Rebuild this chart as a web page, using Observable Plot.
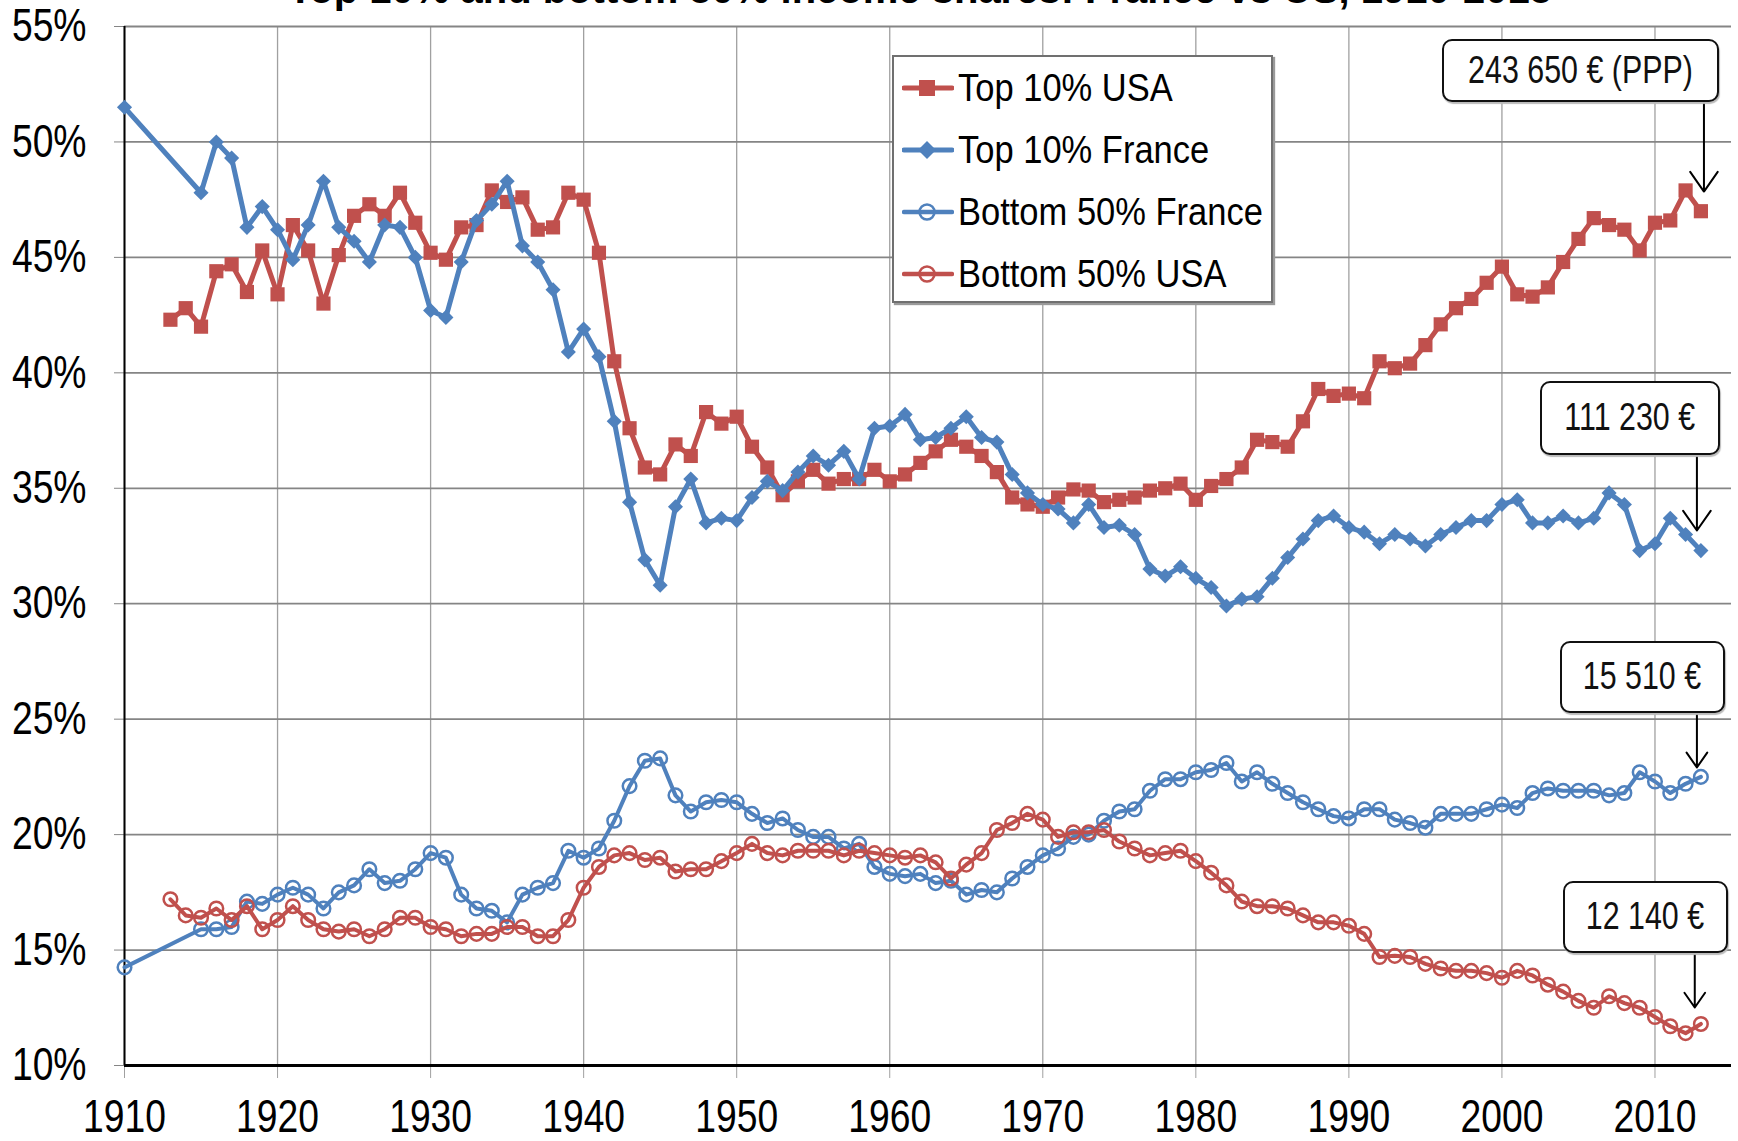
<!DOCTYPE html>
<html>
<head>
<meta charset="utf-8">
<script src="https://cdn.jsdelivr.net/npm/d3@7"></script>
<script src="https://cdn.jsdelivr.net/npm/@observablehq/plot@0.6"></script>
<style>
  html, body { margin: 0; padding: 0; background: #fff; }
  #wrap { position: relative; width: 1738px; height: 1141px; overflow: hidden; background: #fff; }
  #title { position: absolute; left: 0; width: 1840px; top: -31px; text-align: center;
           font: bold 40px/40px "Liberation Sans", Arial, sans-serif; color: #000; white-space: nowrap; }
  #legend { position: absolute; left: 892px; top: 55px; width: 381px; height: 248px; background: #fff;
            border: 2px solid #707070; box-shadow: 2px 2px 1px #9a9a9a; box-sizing: border-box; }
  .lg { position: absolute; left: 8px; height: 40px; display: flex; align-items: center; }
  .lg svg { flex: none; }
  .lg span { display: inline-block; margin-left: 4px; font: 34.5px "Liberation Sans", Arial, sans-serif;
             color: #000; transform: scaleY(1.12); white-space: nowrap; }
  .box { position: absolute; background: #fff; border: 2px solid #111; border-radius: 10px;
         box-sizing: border-box; display: flex; align-items: center; justify-content: center;
         box-shadow: 1px 2px 1px #bbb; white-space: nowrap; }
  .box span { display: inline-block; font: 38px "Liberation Sans", Arial, sans-serif; color: #111;
              transform: scaleX(0.8); }
</style>
</head>
<body>
<div id="wrap">
  <div id="title">Top 10% and bottom 50% income shares: France vs US, 1910-2015</div>
</div>
<script>
// ---------- data ----------
const xTicks = [1910, 1920, 1930, 1940, 1950, 1960, 1970, 1980, 1990, 2000, 2010];
const yTicks = [10, 15, 20, 25, 30, 35, 40, 45, 50, 55];

const seriesNames = ["Top 10% USA", "Top 10% France", "Bottom 50% France", "Bottom 50% USA"];

const yearsUSA = d3.range(1913, 2014);
const yearsFrance = [1910].concat(d3.range(1915, 2014));

const top10USA = [
  42.3, 42.8, 42.0, 44.4, 44.7, 43.5, 45.3, 43.4, 46.4, 45.3, 43.0, 45.1, 46.8, 47.3, 46.8, 47.8, 46.5,
  45.2, 44.9, 46.3, 46.4, 47.9, 47.4, 47.6, 46.2, 46.3, 47.8, 47.5, 45.2, 40.5, 37.6, 35.9, 35.6, 36.9,
  36.4, 38.3, 37.8, 38.1, 36.8, 35.9, 34.7, 35.3, 35.8, 35.2, 35.4, 35.4, 35.8, 35.3, 35.6, 36.1, 36.6,
  37.1, 36.8, 36.4, 35.7, 34.6, 34.3, 34.2, 34.6, 34.95, 34.9, 34.4, 34.5, 34.6, 34.9, 35.0, 35.2, 34.5,
  35.1, 35.4, 35.9, 37.1, 37.0, 36.8, 37.9, 39.3, 39.0, 39.1, 38.9, 40.5, 40.2, 40.4, 41.2, 42.1, 42.8,
  43.2, 43.9, 44.6, 43.4, 43.3, 43.7, 44.8, 45.8, 46.7, 46.4, 46.2, 45.3, 46.5, 46.6, 47.9, 47.0
];
const top10France = [
  51.5, 47.8, 50.0, 49.3, 46.3, 47.2, 46.2, 44.9, 46.4, 48.3, 46.3, 45.7, 44.8, 46.4, 46.3, 45.0, 42.7,
  42.4, 44.8, 46.6, 47.3, 48.3, 45.5, 44.8, 43.6, 40.9, 41.9, 40.7, 37.9, 34.4, 31.9, 30.8, 34.2, 35.4,
  33.5, 33.7, 33.6, 34.6, 35.3, 34.9, 35.7, 36.4, 36.0, 36.6, 35.4, 37.6, 37.7, 38.2, 37.1, 37.2, 37.6,
  38.1, 37.2, 37.0, 35.6, 34.8, 34.3, 34.1, 33.5, 34.3, 33.3, 33.4, 33.0, 31.5, 31.2, 31.6, 31.1, 30.7,
  29.9, 30.2, 30.3, 31.1, 32.0, 32.8, 33.6, 33.8, 33.3, 33.1, 32.6, 33.0, 32.8, 32.5, 33.0, 33.3, 33.6,
  33.6, 34.3, 34.5, 33.5, 33.5, 33.8, 33.5, 33.7, 34.8, 34.3, 32.3, 32.6, 33.7, 33.0, 32.3
];
const bottom50France = [
  14.25, 15.9, 15.9, 16.0, 17.1, 17.0, 17.4, 17.7, 17.4, 16.8, 17.5, 17.8, 18.5, 17.9, 18.0, 18.5, 19.2,
  19.0, 17.4, 16.8, 16.7, 16.2, 17.4, 17.7, 17.9, 19.3, 19.0, 19.4, 20.6, 22.1, 23.2, 23.3, 21.7, 21.0,
  21.4, 21.5, 21.4, 20.9, 20.5, 20.7, 20.2, 19.9, 19.9, 19.4, 19.6, 18.6, 18.3, 18.2, 18.3, 17.9, 18.0,
  17.4, 17.6, 17.5, 18.1, 18.6, 19.1, 19.4, 19.9, 20.0, 20.6, 21.0, 21.1, 21.9, 22.4, 22.4, 22.7, 22.8,
  23.1, 22.3, 22.7, 22.2, 21.8, 21.4, 21.1, 20.8, 20.7, 21.1, 21.1, 20.65, 20.5, 20.3, 20.9, 20.9, 20.9,
  21.1, 21.3, 21.15, 21.8, 22.0, 21.9, 21.9, 21.9, 21.7, 21.8, 22.7, 22.3, 21.8, 22.2, 22.5
];
const bottom50USA = [
  17.2, 16.5, 16.4, 16.8, 16.3, 16.9, 15.9, 16.3, 16.9, 16.3, 15.9, 15.8, 15.9, 15.6, 15.9, 16.4, 16.4,
  16.0, 15.9, 15.6, 15.7, 15.7, 16.0, 16.0, 15.6, 15.6, 16.3, 17.7, 18.6, 19.1, 19.2, 18.9, 19.0, 18.4,
  18.5, 18.5, 18.85, 19.2, 19.6, 19.2, 19.1, 19.3, 19.3, 19.3, 19.1, 19.3, 19.2, 19.1, 19.0, 19.1, 18.8,
  18.1, 18.7, 19.2, 20.2, 20.5, 20.9, 20.65, 19.9, 20.1, 20.1, 20.2, 19.7, 19.4, 19.1, 19.2, 19.3, 18.85,
  18.35, 17.8, 17.1, 16.9, 16.9, 16.8, 16.5, 16.2, 16.2, 16.05, 15.7, 14.7, 14.75, 14.7, 14.4, 14.2, 14.1,
  14.1, 14.0, 13.8, 14.1, 13.9, 13.5, 13.2, 12.8, 12.5, 13.0, 12.7, 12.5, 12.1, 11.7, 11.4, 11.8
];

// callout labels (2013 values), anchored in data space
const calloutText = ["243 650 € (PPP)", "111 230 €", "15 510 €", "12 140 €"];
const calloutBox = [ // [x1, x2, yTop, yBottom]
  [1996.1, 2014.2, 54.44, 51.71],
  [2002.5, 2014.3, 39.63, 36.42],
  [2003.8, 2014.6, 28.37, 25.25],
  [2004.0, 2014.8, 17.97, 14.85]
];
const calloutArrow = [ // [x, yFrom, yTo]
  [2013.2, 51.71, 47.85],
  [2012.74, 36.42, 33.17],
  [2012.74, 25.25, 22.91],
  [2012.6, 14.85, 12.51]
];

// ---------- build ----------
const RED = "#C0504D", BLUE = "#4F81BD";
const FONT = '"Liberation Sans", Arial, sans-serif';
const rows = (years, vals) => years.map((year, i) => ({year, value: vals[i]}));
const dUSATop = rows(yearsUSA, top10USA);
const dFRTop = rows(yearsFrance, top10France);
const dFRBot = rows(yearsFrance, bottom50France);
const dUSABot = rows(yearsUSA, bottom50USA);
const arrows = calloutArrow.map(([x, y1, y2]) => ({x, y1, y2}));

const chart = Plot.plot({
  width: 1738,
  height: 1141,
  marginTop: 26,
  marginBottom: 76,
  marginLeft: 124,
  marginRight: 7,
  style: {background: "transparent", fontFamily: FONT, color: "#000", overflow: "visible"},
  x: {domain: [1910, 2015], label: null},
  y: {domain: [10, 55], label: null},
  marks: [
    Plot.gridX(xTicks, {stroke: "#a0a0a0", strokeOpacity: 1, strokeWidth: 1.3}),
    Plot.gridY(yTicks, {stroke: "#858585", strokeOpacity: 1, strokeWidth: 1.8}),
    Plot.axisX(xTicks, {tickSize: 13, tickPadding: 21, stroke: "#a0a0a0", fill: "#000", fontSize: 46,
      fontFamily: FONT, tickFormat: d => String(d), label: null}),
    Plot.axisY(yTicks, {tickSize: 10, tickPadding: 28, stroke: "#858585", fill: "#000", fontSize: 46,
      fontFamily: FONT, tickFormat: d => d + "%", label: null}),
    Plot.ruleX([1910], {stroke: "#000", strokeWidth: 2}),
    Plot.ruleY([10], {stroke: "#000", strokeWidth: 3}),

    Plot.line(dUSATop, {x: "year", y: "value", stroke: RED, strokeWidth: 5}),
    Plot.dot(dUSATop, {x: "year", y: "value", symbol: "square", r: 8, fill: RED, stroke: "none"}),

    Plot.line(dFRTop, {x: "year", y: "value", stroke: BLUE, strokeWidth: 5}),
    Plot.dot(dFRTop, {x: "year", y: "value", symbol: "diamond2", r: 6.8, fill: BLUE, stroke: "none"}),

    Plot.line(dFRBot, {x: "year", y: "value", stroke: BLUE, strokeWidth: 4}),
    Plot.dot(dFRBot, {x: "year", y: "value", symbol: "circle", r: 6.8, fill: "none", stroke: BLUE, strokeWidth: 2.5}),

    Plot.line(dUSABot, {x: "year", y: "value", stroke: RED, strokeWidth: 4}),
    Plot.dot(dUSABot, {x: "year", y: "value", symbol: "circle", r: 6.8, fill: "none", stroke: RED, strokeWidth: 2.5}),

    Plot.arrow(arrows, {x1: "x", x2: "x", y1: "y1", y2: "y2", stroke: "#000", strokeWidth: 2,
      headLength: 18, headAngle: 70})
  ]
});

const wrap = document.getElementById("wrap");
chart.style.position = "absolute";
chart.style.left = "0px";
chart.style.top = "0px";
wrap.appendChild(chart);

// condense the tick labels horizontally (the reference uses a narrow face)
chart.querySelectorAll('[aria-label="x-axis tick label"] text, [aria-label="y-axis tick label"] text').forEach(t => {
  const w = t.getComputedTextLength();
  if (w > 0) {
    t.setAttribute("textLength", (w * 0.81).toFixed(1));
    t.setAttribute("lengthAdjust", "spacingAndGlyphs");
  }
});

// callout boxes positioned through the chart's own scales
const sx = chart.scale("x"), sy = chart.scale("y");
calloutBox.forEach(([x1, x2, yt, yb], i) => {
  const d = document.createElement("div");
  d.className = "box";
  const L = sx.apply(x1), R = sx.apply(x2), T = sy.apply(yt), B = sy.apply(yb);
  d.style.left = L + "px"; d.style.top = T + "px";
  d.style.width = (R - L) + "px"; d.style.height = (B - T) + "px";
  const s = document.createElement("span");
  s.textContent = calloutText[i];
  d.appendChild(s);
  wrap.appendChild(d);
});

// legend
const legend = document.createElement("div");
legend.id = "legend";
const symbolSvg = (i) => {
  const c = i === 0 || i === 3 ? RED : BLUE;
  let m = "";
  if (i === 0) m = `<rect x="17" y="9" width="16" height="16" fill="${c}"/>`;
  else if (i === 1) m = `<polygon points="25,8 34,17 25,26 16,17" fill="${c}"/>`;
  else m = `<circle cx="25" cy="17" r="7.5" fill="none" stroke="${c}" stroke-width="2.5"/>`;
  const w = i < 2 ? 5 : 4.5;
  return `<svg width="52" height="34" viewBox="0 0 52 34"><line x1="2" x2="50" y1="17" y2="17" stroke="${c}" stroke-width="${w}" stroke-linecap="round"/>${m}</svg>`;
};
const legendTops = [11, 73, 135, 197];
seriesNames.forEach((name, i) => {
  const e = document.createElement("div");
  e.className = "lg";
  e.style.top = legendTops[i] + "px";
  e.innerHTML = symbolSvg(i) + `<span>${name}</span>`;
  legend.appendChild(e);
});
wrap.appendChild(legend);
</script>
</body>
</html>
